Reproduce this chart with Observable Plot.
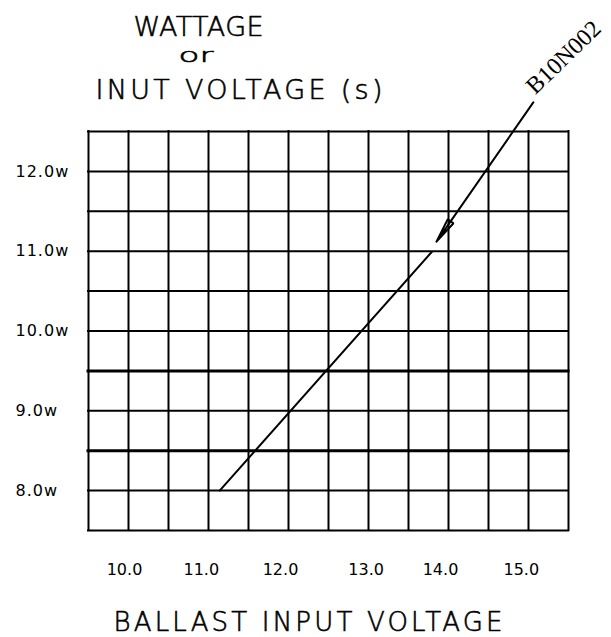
<!DOCTYPE html>
<html>
<head>
<meta charset="utf-8">
<script src="https://cdn.jsdelivr.net/npm/d3@7"></script>
<script src="https://cdn.jsdelivr.net/npm/@observablehq/plot@0.6"></script>
<style>
  html, body { margin: 0; padding: 0; background: #fff; }
</style>
</head>
<body>
<div id="chart"></div>
<script>
// ---- data ----
const xGrid = [9.5, 10, 10.5, 11, 11.5, 12, 12.5, 13, 13.5, 14, 14.5, 15, 15.5];
const yGrid = [7.5, 8, 8.5, 9, 9.5, 10, 10.5, 11, 11.5, 12, 12.5];
const yGridBold = [8.5, 9.5];
const xTickLabels = ["10.0", "11.0", "12.0", "13.0", "14.0", "15.0"];
const xTickPos = [9.95, 10.91, 11.90, 12.97, 13.90, 14.91];
const yTickValues = [8, 9, 10, 11, 12];
const yTickLabels = ["8.0w", "9.0w", "10.0w", "11.0w", "12.0w"];
const curveVoltage = [11.14, 13.79];
const curveWatts = [8.0, 10.99];
const calloutLabel = ["B10N002"];
const calloutFromV = [15.06], calloutFromW = [12.865];
const calloutToV = [13.85], calloutToW = [11.12];
const titleLines = ["WATTAGE", "or", "INUT VOLTAGE (s)"];
const xTitle = ["BALLAST INPUT VOLTAGE"];

const curve = curveVoltage.map((v, i) => ({v, w: curveWatts[i]}));
const callout = calloutLabel.map((t, i) => ({
  t, x1: calloutFromV[i], y1: calloutFromW[i], x2: calloutToV[i], y2: calloutToW[i]
}));

const cad = "DejaVu Sans";
const cadText = {fontFamily: cad, fontWeight: 200, fill: "#000", stroke: "#000", strokeWidth: 0.6,
  textAnchor: "start", lineAnchor: "bottom", text: d => d};

const plot = Plot.plot({
  width: 611,
  height: 637,
  marginLeft: 88,
  marginRight: 43,
  marginTop: 131,
  marginBottom: 107,
  style: {background: "#fff", color: "#000"},
  x: {domain: [9.5, 15.5], axis: null},
  y: {domain: [7.5, 12.5], axis: null},
  marks: [
    Plot.ruleX(xGrid, {x: d => d, stroke: "#000", strokeWidth: 2, strokeLinecap: "square"}),
    Plot.ruleY(yGrid, {y: d => d, stroke: "#000", strokeWidth: d => yGridBold.includes(d) ? 3 : 2, strokeLinecap: "square"}),
    Plot.line(curve, {x: "v", y: "w", stroke: "#000", strokeWidth: 2}),
    Plot.arrow(callout, {x1: "x1", y1: "y1", x2: "x2", y2: "y2", stroke: "#000", strokeWidth: 2,
      headLength: 18.75, headAngle: 16, ariaDescription: "callout-arrow"}),
    Plot.text(callout, {x: "x1", y: "y1", text: "t", rotate: -44, textAnchor: "start",
      lineAnchor: "bottom", dx: 2, dy: -7, fontSize: 24, fontFamily: "Liberation Serif", fill: "#000"}),
    Plot.text(yTickValues, {y: d => d, text: (d, i) => yTickLabels[i], frameAnchor: "left",
      textAnchor: "start", dx: -73, fontSize: 16, fontFamily: cad, fill: "#000", ariaDescription: "ylabels"}),
    Plot.text(xTickPos, {x: d => d, text: (d, i) => xTickLabels[i], frameAnchor: "bottom",
      lineAnchor: "middle", dy: 39, fontSize: 16, fontFamily: cad, fill: "#000"}),
    Plot.text([titleLines[0]], {...cadText, frameAnchor: "top-left", dx: 45, dy: -96, fontSize: 27, ariaDescription: "t0"}),
    Plot.text([titleLines[1]], {...cadText, frameAnchor: "top-left", dx: 90, dy: -70, fontSize: 20, ariaDescription: "t1"}),
    Plot.text([titleLines[2]], {...cadText, frameAnchor: "top-left", dx: 7, dy: -33, fontSize: 27, ariaDescription: "t2"}),
    Plot.text(xTitle, {...cadText, frameAnchor: "bottom-left", dx: 25, dy: 100, fontSize: 26, ariaDescription: "t3"})
  ]
});

// close the arrowhead into a thin outlined triangle
d3.select(plot).selectAll('g[aria-description="callout-arrow"] path')
  .attr("d", function() { return this.getAttribute("d") + "Z"; })
  .attr("fill", "none");

// stretch CAD-style lettering to the drawn widths
const lengths = {t0: [130, "spacing"], t1: [35, "spacingAndGlyphs"], t2: [287, "spacing"], t3: [389, "spacing"]};
for (const [k, [len, adj]] of Object.entries(lengths)) {
  d3.select(plot).selectAll(`g[aria-description="${k}"] text`)
    .attr("textLength", len).attr("lengthAdjust", adj);
}
d3.select(plot).selectAll('g[aria-description="ylabels"] text').attr("letter-spacing", 1);

document.getElementById("chart").appendChild(plot);
</script>
</body>
</html>
